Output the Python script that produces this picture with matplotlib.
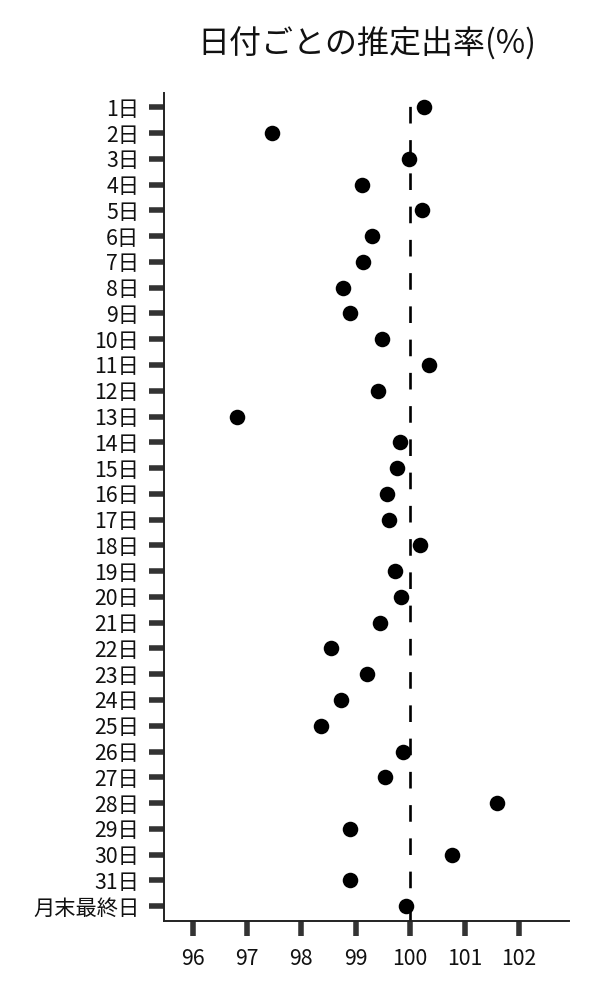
import matplotlib
matplotlib.use("Agg")
import matplotlib.pyplot as plt

plt.rcParams['font.family'] = ['Noto Sans CJK JP', 'DejaVu Sans']

days = [f"{i}日" for i in range(1, 32)] + ["月末最終日"]
rates = [100.25, 97.46, 99.98, 99.12, 100.21, 99.30, 99.14, 98.76, 98.89, 99.49,
         100.34, 99.40, 96.81, 99.82, 99.76, 99.57, 99.62, 100.18, 99.72, 99.83,
         99.44, 98.54, 99.21, 98.72, 98.37, 99.87, 99.53, 101.59, 98.89, 100.77,
         98.89, 99.93]
xticks = [96, 97, 98, 99, 100, 101, 102]
reference = 100

fig = plt.figure(figsize=(6, 10), dpi=100)
ax = fig.add_axes([0.2738, 0.0793, 0.9483 - 0.2738, 0.9073 - 0.0793])

ypos = list(range(len(days)))
ax.axvline(reference, color='black', lw=1.9, linestyle=(0, (6.3, 6.3)), zorder=1)
ax.scatter(rates, ypos, s=125, color='black', zorder=3, linewidths=0)

ax.set_yticks(ypos)
ax.set_yticklabels(days)
ax.set_xticks(xticks)
ax.set_xticklabels([str(t) for t in xticks])
ax.set_xlim(95.48, 102.92)
ax.set_ylim(len(days) - 1 + 0.565, -0.565)

for s in ['top', 'right']:
    ax.spines[s].set_visible(False)
for s in ['left', 'bottom']:
    ax.spines[s].set_color('#222222')
    ax.spines[s].set_linewidth(1.4)

ax.tick_params(axis='both', length=10.5, width=4, color='#333333',
               labelsize=15.3, labelcolor='#111111')
ax.tick_params(axis='y', pad=7.5)
ax.tick_params(axis='x', pad=9)

ax.set_title("日付ごとの推定出率(%)", fontsize=23, pad=28, color='#111111')

fig.savefig("out.png", dpi=100)
